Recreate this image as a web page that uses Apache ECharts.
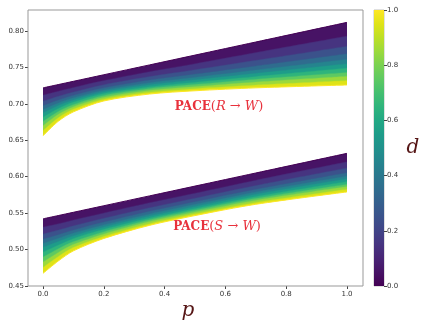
<!DOCTYPE html>
<html>
<head>
<meta charset="utf-8">
<script src="https://cdn.jsdelivr.net/npm/echarts@6/dist/echarts.min.js"></script>
<style>
  html, body { margin: 0; padding: 0; background: #fff; }
  #chart { width: 423px; height: 326px; }
</style>
</head>
<body>
<div id="chart"></div>
<script>
// p grid and d levels
const pVals = [0, 0.05, 0.1, 0.2, 0.35, 0.5, 0.7, 1.0]
const dLevels = [0, 0.1, 0.2, 0.3, 0.4, 0.5, 0.6, 0.7, 0.8, 0.9, 1.0]
const xTicks = [0, 0.2, 0.4, 0.6, 0.8, 1.0]
const yTicks = [0.45, 0.5, 0.55, 0.6, 0.65, 0.7, 0.75, 0.8]
const cbTicks = [0, 0.2, 0.4, 0.6, 0.8, 1.0]

// PACE(R -> W), one row per d level
const paceR = [
  [0.722, 0.7265, 0.731, 0.740, 0.7535, 0.767, 0.785, 0.812],
  [0.7121, 0.7174, 0.7226, 0.7321, 0.7443, 0.7552, 0.7705, 0.7931],
  [0.7035, 0.7103, 0.7163, 0.7263, 0.7375, 0.7469, 0.7598, 0.7793],
  [0.6976, 0.7053, 0.7117, 0.7220, 0.7327, 0.7410, 0.7522, 0.7690],
  [0.6923, 0.7012, 0.7083, 0.7191, 0.7291, 0.7366, 0.7466, 0.7613],
  [0.6877, 0.6977, 0.7054, 0.7166, 0.7263, 0.7332, 0.7422, 0.7552],
  [0.6817, 0.6937, 0.7024, 0.7141, 0.7235, 0.7298, 0.7377, 0.7492],
  [0.6758, 0.6896, 0.6991, 0.7116, 0.7211, 0.7268, 0.7340, 0.7432],
  [0.6699, 0.6856, 0.6961, 0.7090, 0.7187, 0.7239, 0.7302, 0.7380],
  [0.6633, 0.6810, 0.6928, 0.7065, 0.7159, 0.7209, 0.7258, 0.7320],
  [0.656, 0.676, 0.689, 0.704, 0.7135, 0.718, 0.722, 0.726]
]

// PACE(S -> W), one row per d level
const paceS = [
  [0.542, 0.5465, 0.551, 0.560, 0.5735, 0.587, 0.605, 0.632],
  [0.5307, 0.5352, 0.5404, 0.5501, 0.5642, 0.5773, 0.5951, 0.6203],
  [0.5210, 0.5265, 0.5324, 0.5429, 0.5573, 0.5704, 0.5878, 0.6119],
  [0.5142, 0.5202, 0.5266, 0.5375, 0.5524, 0.5655, 0.5826, 0.6055],
  [0.5082, 0.5152, 0.5224, 0.5339, 0.5488, 0.5619, 0.5788, 0.6007],
  [0.5030, 0.5109, 0.5187, 0.5307, 0.5460, 0.5591, 0.5758, 0.5970],
  [0.4962, 0.5059, 0.5150, 0.5276, 0.5431, 0.5562, 0.5727, 0.5933],
  [0.4895, 0.5009, 0.5107, 0.5244, 0.5407, 0.5538, 0.5702, 0.5896],
  [0.4827, 0.4959, 0.5070, 0.5213, 0.5383, 0.5514, 0.5676, 0.5864],
  [0.4752, 0.4902, 0.5028, 0.5181, 0.5354, 0.5489, 0.5646, 0.5827],
  [0.467, 0.484, 0.498, 0.515, 0.533, 0.5465, 0.562, 0.579]
]

// viridis, 21 samples 0..1
const viridis = ['#440154', '#471365', '#482475', '#463480', '#414487', '#3b528b', '#355f8d',
  '#2f6c8e', '#2a788e', '#25848e', '#21918c', '#1e9c89', '#22a884', '#2fb47c', '#44bf70',
  '#5ec962', '#7ad151', '#9bd93c', '#bddf26', '#dfe318', '#fde725']
const vcol = t => viridis[Math.round(t * 20)]

// painter's order: each d line fills down to the axis bottom, the next one covers it,
// the d=1 line fills white so only the band stays coloured
function bandSeries(rows) {
  const n = rows.length
  return rows.map((row, k) => ({
    type: 'line', smooth: 0.3, symbol: 'none', silent: true,
    lineStyle: { width: k === 0 || k === n - 1 ? 1 : 0.5, color: vcol(dLevels[k]) },
    areaStyle: {
      origin: 'start', opacity: 1,
      color: k < n - 1 ? vcol((dLevels[k] + dLevels[k + 1]) / 2) : '#fff'
    },
    data: pVals.map((p, j) => [p, row[j]])
  }))
}

const chart = echarts.init(document.getElementById('chart'), null, { renderer: 'canvas' })

const tickLabel = { color: '#333', fontSize: 7, fontFamily: 'DejaVu Sans' }
const cbStops = viridis.map((c, i) => ({ offset: i / 20, color: c }))
const red = '#e8313c'
const pace = (a) => ({
  text: '{b|PACE}{n|(}{i|' + a + '}{n| → }{i|W}{n|)}',
  align: 'center', verticalAlign: 'middle',
  rich: {
    b: { fontFamily: 'DejaVu Serif', fontWeight: 'bold', fontSize: 12, fill: red },
    n: { fontFamily: 'DejaVu Serif', fontSize: 13, fill: red },
    i: { fontFamily: 'DejaVu Serif', fontStyle: 'italic', fontSize: 13, fill: red }
  }
})

// 304 px per unit of p, so p=0 and p=1 land on whole pixels (43 and 347)
const option = {
  animation: false,
  grid: [
    { left: 28, top: 10, width: 335, height: 276 },
    { left: 374, top: 10, width: 10, height: 276, show: true, borderColor: '#999', borderWidth: 0.6 }
  ],
  xAxis: [
    {
      type: 'value', gridIndex: 0, min: -15 / 304, max: 1 + 16 / 304,
      axisLine: { show: false, onZero: false },
      axisTick: { show: true, length: 3, lineStyle: { color: '#444' }, customValues: xTicks },
      axisLabel: { ...tickLabel, margin: 5, customValues: xTicks, formatter: v => v.toFixed(1) },
      splitLine: { show: false }
    },
    { type: 'category', gridIndex: 1, data: ['d'], show: false }
  ],
  yAxis: [
    {
      type: 'value', gridIndex: 0, min: 0.4497, max: 0.829,
      axisLine: { show: false, onZero: false },
      axisTick: { show: true, length: 3, lineStyle: { color: '#444' }, customValues: yTicks },
      axisLabel: { ...tickLabel, margin: 4, customValues: yTicks, formatter: v => v.toFixed(2) },
      splitLine: { show: false }
    },
    {
      type: 'value', gridIndex: 1, min: 0, max: 1, interval: 0.2, position: 'right',
      axisLine: { show: false, onZero: false },
      axisTick: { show: true, length: 3, lineStyle: { color: '#444' } },
      axisLabel: { ...tickLabel, margin: 3, formatter: v => v.toFixed(1) },
      splitLine: { show: false }
    }
  ],
  series: [
    ...bandSeries(paceR),
    ...bandSeries(paceS),
    {
      type: 'bar', xAxisIndex: 1, yAxisIndex: 1, barWidth: '100%', silent: true,
      itemStyle: { color: new echarts.graphic.LinearGradient(0, 1, 0, 0, cbStops) },
      data: [cbTicks[cbTicks.length - 1]]
    }
  ],
  graphic: [
    {
      type: 'rect', z: 100, silent: true,
      shape: { x: 28, y: 10, width: 335, height: 276 },
      style: { fill: 'none', stroke: '#999', lineWidth: 1 }
    },
    { type: 'text', z: 100, x: 219, y: 107, style: pace('R') },
    { type: 'text', z: 100, x: 217, y: 227, style: pace('S') },
    {
      type: 'text', z: 100, x: 188, y: 311,
      style: {
        text: 'p', align: 'center', verticalAlign: 'middle',
        fontFamily: 'DejaVu Serif', fontStyle: 'italic', fontSize: 20, fill: '#561616'
      }
    },
    {
      type: 'text', z: 100, x: 413, y: 148,
      style: {
        text: 'd', align: 'center', verticalAlign: 'middle',
        fontFamily: 'DejaVu Serif', fontStyle: 'italic', fontSize: 20, fill: '#561616'
      }
    }
  ]
}

chart.setOption(option)
</script>
</body>
</html>
